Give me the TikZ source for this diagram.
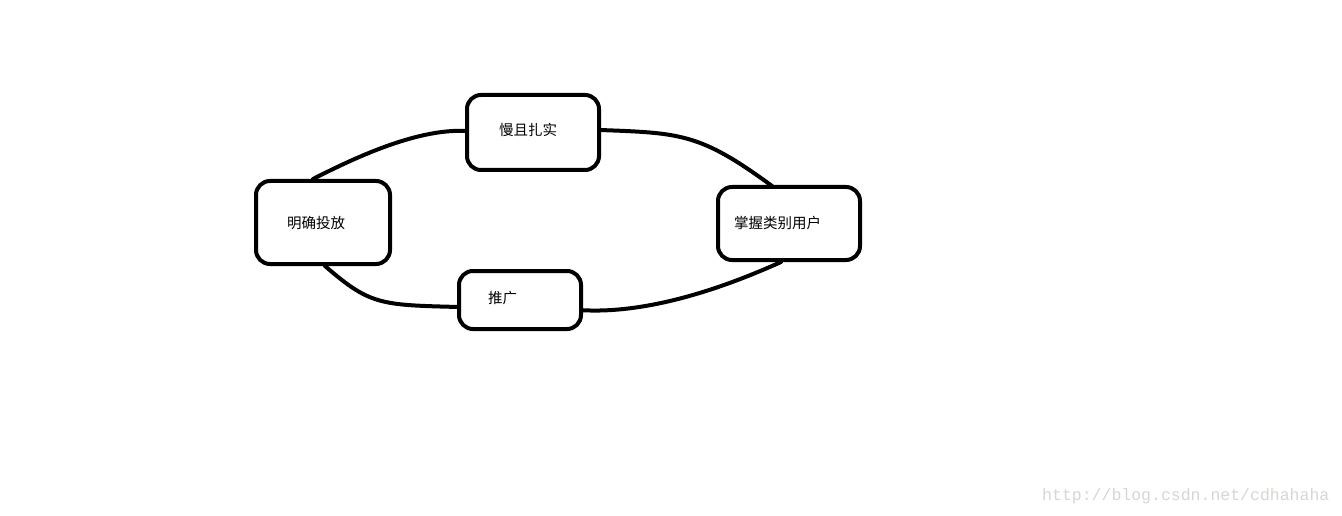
\documentclass[tikz,border=0pt]{standalone}
\usepackage{fontspec}
\newfontfamily\cjk{Noto Sans CJK SC}
\newfontfamily\wm{Liberation Mono}
\definecolor{wmgray}{RGB}{215,215,210}
\begin{document}
\begin{tikzpicture}[x=1pt,y=-1pt,
  box/.style={draw=black,line width=4pt,rounded corners=14pt,fill=white,inner sep=0pt},
  lbl/.style={font=\cjk\fontsize{14.5}{16}\selectfont,inner sep=0pt,anchor=west},
  conn/.style={draw=black,line width=4pt,line cap=round}]
\useasboundingbox[fill=white] (0,0) rectangle (1342,516);
% connectors first (behind boxes)
\coordinate (c1a) at (313,179);
\coordinate (c1b) at (468,131);
\coordinate (c2a) at (600,130);
\coordinate (c2b) at (772,186);
\coordinate (c3a) at (781,262);
\coordinate (c3b) at (579,310);
\coordinate (c4a) at (459,307);
\coordinate (c4b) at (325,266);
\draw[conn] (c1a) .. controls (360,155) and (420,128) .. (c1b);
\draw[conn] (c2a) .. controls (680,133) and (700,133) .. (c2b);
\draw[conn] (c3a) .. controls (730,285) and (650,315) .. (c3b);
\draw[conn] (c4a) .. controls (380,305) and (370,305) .. (c4b);
% boxes
\node[box,minimum width=132pt,minimum height=75pt] (b1) at (533,132.5) {};
\node[box,minimum width=134pt,minimum height=83pt] (b2) at (323,222.5) {};
\node[box,minimum width=142pt,minimum height=73pt] (b3) at (789,223.5) {};
\node[box,minimum width=122pt,minimum height=58pt] (b4) at (520,300) {};
\node[lbl] (t1) at (499,130) {慢且扎实};
\node[lbl] (t2) at (287,223) {明确投放};
\node[lbl] (t3) at (734,223) {掌握类别用户};
\node[lbl] (t4) at (488,298) {推广};
\node[font=\wm\fontsize{16.5}{18}\selectfont,text=wmgray,inner sep=0pt,anchor=west] (wm) at (1042,496) {http://blog.csdn.net/cdhahaha};
\end{tikzpicture}
\end{document}
